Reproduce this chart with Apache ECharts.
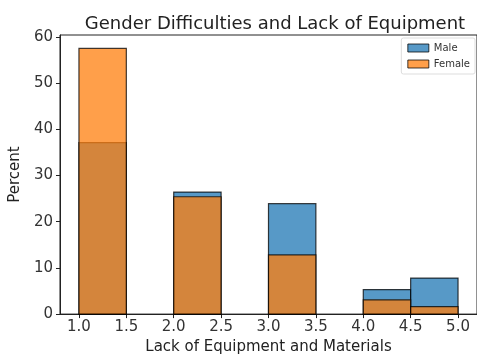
<!DOCTYPE html>
<html>
<head>
<meta charset="utf-8">
<script src="https://cdn.jsdelivr.net/npm/echarts@6/dist/echarts.min.js"></script>
<style>
  html, body { margin: 0; padding: 0; background: #fff; }
  #chart { width: 477px; height: 360px; }
</style>
</head>
<body>
<div id="chart"></div>
<script>
// Histogram bins (left/right edges) for "Lack of Equipment and Materials"
const binStarts = [1.0, 2.0, 3.0, 4.0, 4.5];
const binEnds   = [1.5, 2.5, 3.5, 4.5, 5.0];
// Percent of each group falling in each bin
const maleValues   = [37.1, 26.4, 23.9, 5.3, 7.8];
const femaleValues = [57.5, 25.4, 12.8, 3.1, 1.6];
const xTickLabels = ['1.0', '1.5', '2.0', '2.5', '3.0', '3.5', '4.0', '4.5', '5.0'];
const yTickLabels = ['0', '10', '20', '30', '40', '50', '60'];

const MALE_COLOR = 'rgba(31,119,180,0.75)';
const FEMALE_COLOR = 'rgba(255,127,14,0.75)';
const EDGE = 'rgba(0,0,0,0.75)';
const FONT = 'DejaVu Sans';

function histData(values) {
  return values.map((v, i) => [binStarts[i], binEnds[i], v]);
}

function renderBin(color) {
  return function (params, api) {
    const p0 = api.coord([api.value(0), 0]);
    const p1 = api.coord([api.value(1), api.value(2)]);
    return {
      type: 'rect',
      shape: { x: p0[0], y: p1[1], width: p1[0] - p0[0], height: p0[1] - p1[1] },
      style: { fill: color, stroke: EDGE, lineWidth: 1.2 }
    };
  };
}

const chart = echarts.init(document.getElementById('chart'));
chart.setOption({
  animation: false,
  title: {
    text: 'Gender Difficulties and Lack of Equipment',
    left: 270, top: 10, textAlign: 'center',
    textStyle: { fontFamily: FONT, fontSize: 18, fontWeight: 'normal', color: '#222' }
  },
  legend: {
    right: 2, top: 38, orient: 'vertical',
    itemWidth: 21, itemHeight: 8, itemGap: 6,
    padding: [5, 5, 5, 6],
    borderColor: '#ddd', borderWidth: 1, borderRadius: 2,
    backgroundColor: 'rgba(255,255,255,0.8)',
    textStyle: { fontFamily: FONT, fontSize: 10, color: '#333' },
    data: [
      { name: 'Male', icon: 'rect', itemStyle: { color: MALE_COLOR, borderColor: EDGE, borderWidth: 1 } },
      { name: 'Female', icon: 'rect', itemStyle: { color: FEMALE_COLOR, borderColor: EDGE, borderWidth: 1 } }
    ]
  },
  grid: {
    left: 58, right: -5, top: 35, bottom: 42,
    show: true, borderColor: '#222', borderWidth: 1
  },
  xAxis: {
    type: 'value', min: 0.8, max: 5.2,
    name: 'Lack of Equipment and Materials', nameLocation: 'middle', nameGap: 25,
    nameTextStyle: { fontFamily: FONT, fontSize: 15, color: '#222' },
    axisLine: { lineStyle: { color: '#222' } },
    axisTick: { show: true, length: 4, lineStyle: { color: '#222' },
      customValues: xTickLabels.map(Number) },
    axisLabel: { fontFamily: FONT, fontSize: 15, color: '#333', margin: 6,
      customValues: xTickLabels.map(Number),
      formatter: v => v.toFixed(1) },
    splitLine: { show: false }
  },
  yAxis: {
    type: 'value', min: 0, max: 60.4,
    name: 'Percent', nameLocation: 'middle', nameGap: 32, nameRotate: 90,
    nameTextStyle: { fontFamily: FONT, fontSize: 15, color: '#222' },
    axisLine: { show: true, lineStyle: { color: '#222' } },
    axisTick: { show: true, length: 4, lineStyle: { color: '#222' },
      customValues: yTickLabels.map(Number) },
    axisLabel: { fontFamily: FONT, fontSize: 15, color: '#333', margin: 7,
      customValues: yTickLabels.map(Number) },
    splitLine: { show: false }
  },
  series: [
    {
      name: 'Male', type: 'custom', renderItem: renderBin(MALE_COLOR),
      itemStyle: { color: MALE_COLOR },
      encode: { x: [0, 1], y: 2 },
      data: histData(maleValues)
    },
    {
      name: 'Female', type: 'custom', renderItem: renderBin(FEMALE_COLOR),
      itemStyle: { color: FEMALE_COLOR },
      encode: { x: [0, 1], y: 2 },
      data: histData(femaleValues)
    }
  ]
});
</script>
</body>
</html>
